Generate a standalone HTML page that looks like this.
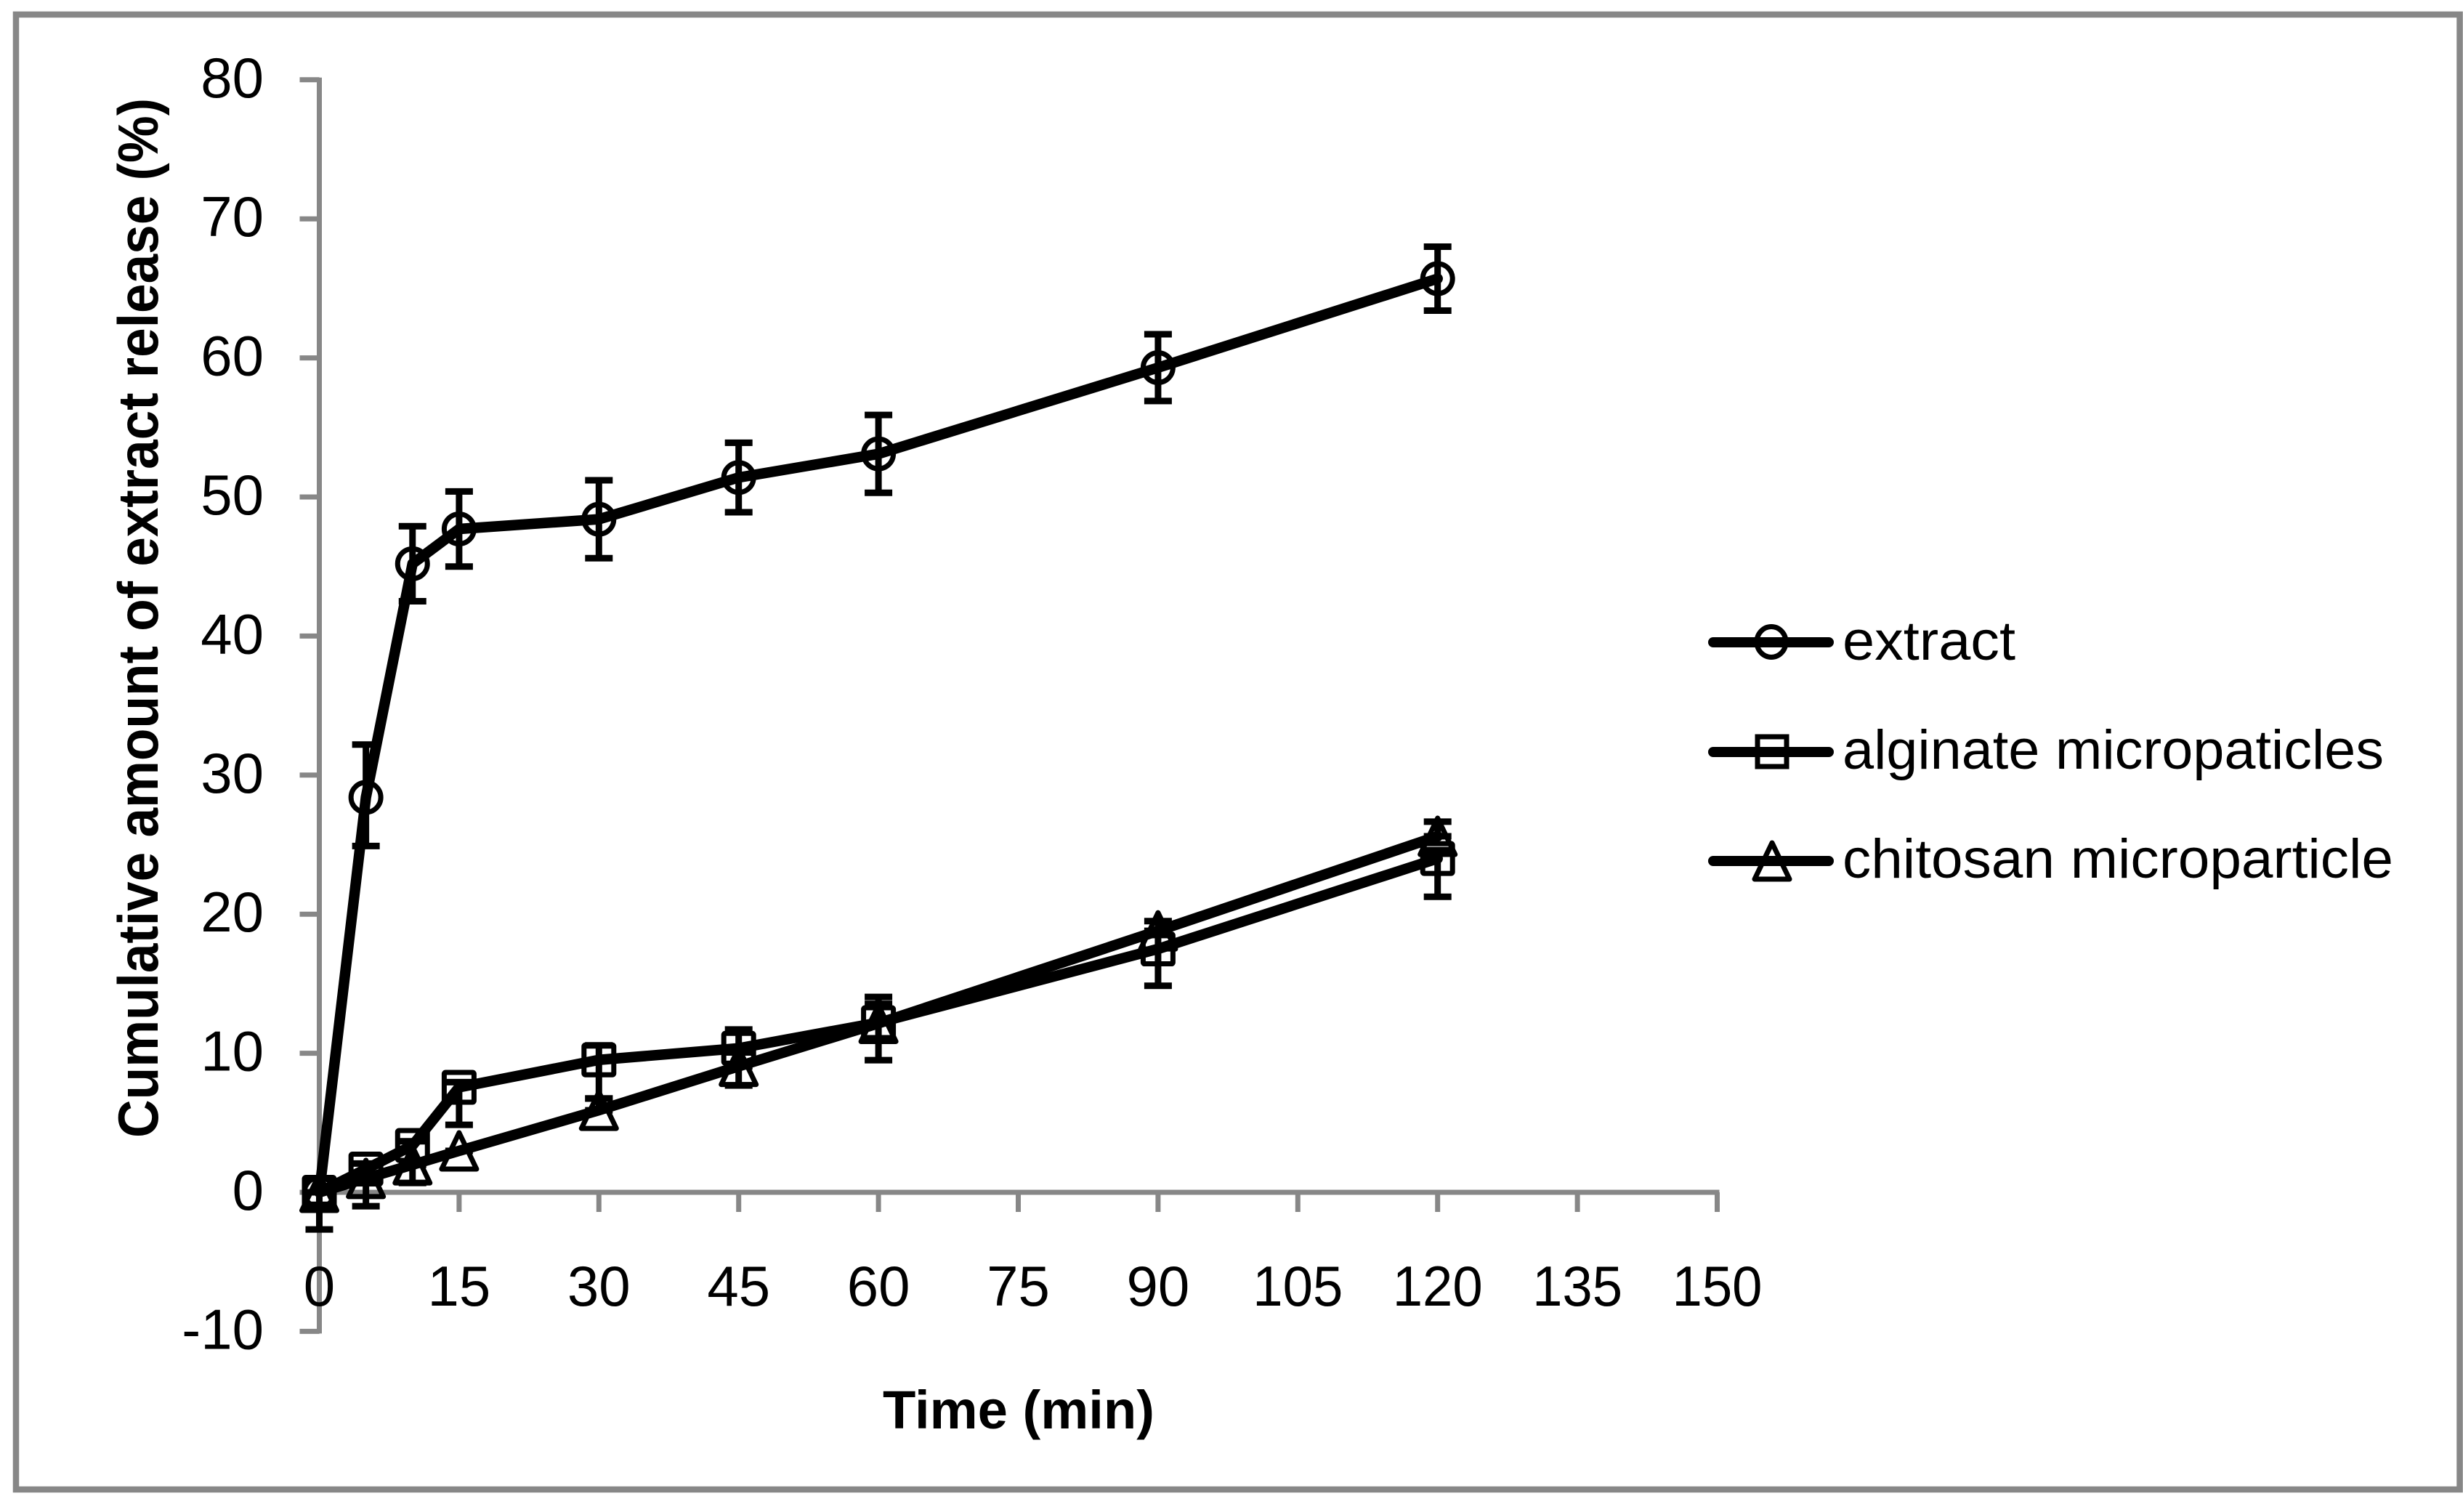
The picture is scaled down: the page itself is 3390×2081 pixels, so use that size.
<!DOCTYPE html>
<html>
<head>
<meta charset="utf-8">
<title>Cumulative extract release</title>
<style>
html,body{margin:0;padding:0;background:#fff;width:3390px;height:2081px;overflow:hidden}
svg{display:block}
text{font-family:"Liberation Sans",sans-serif;fill:#000}
</style>
</head>
<body>
<svg id="chart" xmlns="http://www.w3.org/2000/svg" width="3390" height="2081" viewBox="0 0 3390 2081">
  <rect x="22" y="20" width="3363.5" height="2030" fill="#fff" stroke="#878787" stroke-width="8.5"/>
  <g id="axes"></g>
  <g id="plot"></g>
  <text transform="translate(217,1566) rotate(-90)" font-size="78" font-weight="bold" textLength="1431" lengthAdjust="spacingAndGlyphs">Cumulative amount of extract release (%)</text>
  <text x="1215" y="1966" font-size="74" font-weight="bold" textLength="374" lengthAdjust="spacingAndGlyphs">Time (min)</text>
  <g>
    <g>
      <line x1="2358" y1="884" x2="2517" y2="884" stroke="#000" stroke-width="14" stroke-linecap="round"/>
      <ellipse cx="2438" cy="883.5" rx="20" ry="21" fill="none" stroke="#000" stroke-width="7"/>
      <text x="2536" y="908" font-size="76" textLength="238" lengthAdjust="spacingAndGlyphs">extract</text>
    </g>
    <g>
      <line x1="2358" y1="1035" x2="2517" y2="1035" stroke="#000" stroke-width="14" stroke-linecap="round"/>
      <rect x="2419" y="1014" width="40" height="41" fill="none" stroke="#000" stroke-width="7"/>
      <text x="2536" y="1058" font-size="76" textLength="745" lengthAdjust="spacingAndGlyphs">alginate micropaticles</text>
    </g>
    <g>
      <line x1="2358" y1="1185" x2="2517" y2="1185" stroke="#000" stroke-width="14" stroke-linecap="round"/>
      <polygon points="2439,1160 2415,1210 2463,1210" fill="none" stroke="#000" stroke-width="7" stroke-linejoin="round"/>
      <text x="2536" y="1208" font-size="76" textLength="758" lengthAdjust="spacingAndGlyphs">chitosan microparticle</text>
    </g>
  </g>
</svg>
<script>
const times = [0, 5, 10, 15, 30, 45, 60, 90, 120];
const extractValues = [0, 28.4, 45.2, 47.7, 48.4, 51.4, 53.1, 59.3, 65.7];
const extractUp = [0, 3.8, 2.7, 2.7, 2.8, 2.5, 2.8, 2.4, 2.3];
const extractDown = [0, 3.5, 2.7, 2.7, 2.8, 2.5, 2.8, 2.4, 2.3];
const alginateValues = [0, 1.67, 3.37, 7.55, 9.52, 10.36, 12.2, 17.5, 24.0];
const alginateUp = [0, 0.4, 0.3, 0.37, 1.05, 1.35, 1.85, 1.0, 0.6];
const alginateDown = [2.67, 2.67, 2.7, 2.7, 2.78, 2.68, 2.7, 2.65, 2.75];
const chitosanValues = [0, 1.0, 1.98, 2.98, 5.9, 9.06, 12.15, 18.8, 25.6];
const chitosanUp = [0, 0, 0, 0, 0.85, 1.0, 1.4, 0.7, 1.05];
const chitosanDown = [0.9, 0, 0, 0, 0, 0, 0, 0, 0];
const xTicks = [0, 15, 30, 45, 60, 75, 90, 105, 120, 135, 150];
const yTicks = [-10, 0, 10, 20, 30, 40, 50, 60, 70, 80];

const NS = 'http://www.w3.org/2000/svg';
const AXIS = '#878787';
function xScale(v) { return 439.5 + v * (1924 / 150); }
function yScale(v) { return 1641 - v * 19.14; }
function mk(tag, attrs, parent) {
  const el = document.createElementNS(NS, tag);
  for (const k in attrs) el.setAttribute(k, attrs[k]);
  parent.appendChild(el);
  return el;
}
const axes = document.getElementById('axes');
const plot = document.getElementById('plot');

const yLine = mk('line', {x1: xScale(0), x2: xScale(0), y1: yScale(80) - 3, y2: yScale(-10) + 3, stroke: AXIS, 'stroke-width': 7}, axes);


const xLine = mk('line', {x1: xScale(0), x2: xScale(150) + 3, y1: yScale(0), y2: yScale(0), stroke: AXIS, 'stroke-width': 7}, axes);



yTicks.forEach(function (t) {
  const tick = mk('line', {x1: xScale(0) - 27, x2: xScale(0), y1: yScale(t), y2: yScale(t), stroke: AXIS, 'stroke-width': 7}, axes);
  
  
  const label = mk('text', {x: 363, y: yScale(t) + 24, 'font-size': 78, 'text-anchor': 'end'}, axes);
  label.textContent = String(t);
  
  
});
xTicks.forEach(function (t) {
  const tick = mk('line', {x1: xScale(t), x2: xScale(t), y1: yScale(0), y2: yScale(0) + 27, stroke: AXIS, 'stroke-width': 7}, axes);
  
  
  const label = mk('text', {x: xScale(t), y: 1797, 'font-size': 78, 'text-anchor': 'middle'}, axes);
  label.textContent = String(t);
  if (String(t).length > 2) {
    label.setAttribute('textLength', '124');
    label.setAttribute('lengthAdjust', 'spacingAndGlyphs');
  }
  
  
});

function drawSeries(name, values, ups, downs, shape) {
  const g = mk('g', {}, plot);
  
  
  values.forEach(function (v, i) {
    const x = xScale(times[i]);
    const top = yScale(v + ups[i]);
    const bot = yScale(v - downs[i]);
    const bar = mk('path', {d: 'M' + (x - 19) + ' ' + top + 'H' + (x + 19) + 'M' + x + ' ' + top + 'V' + bot + 'M' + (x - 19) + ' ' + bot + 'H' + (x + 19), fill: 'none', stroke: '#000', 'stroke-width': 9}, g);
    
    
  });
  const pts = values.map(function (v, i) { return xScale(times[i]) + ',' + yScale(v); }).join(' ');
  const line = mk('polyline', {points: pts, fill: 'none', stroke: '#000', 'stroke-width': 14.5, 'stroke-linejoin': 'round', 'stroke-linecap': 'round'}, g);
  
  
  values.forEach(function (v, i) {
    const x = xScale(times[i]);
    const y = yScale(v);
    let m;
    if (shape === 'circle') {
      m = mk('circle', {cx: x, cy: y, r: 20.5, fill: 'none', stroke: '#000', 'stroke-width': 7}, g);
    } else if (shape === 'square') {
      m = mk('rect', {x: x - 20.5, y: y - 20.5, width: 41, height: 41, rx: 2, fill: 'none', stroke: '#000', 'stroke-width': 7}, g);
    } else {
      m = mk('polygon', {points: x + ',' + (y - 25) + ' ' + (x - 24) + ',' + (y + 25) + ' ' + (x + 24) + ',' + (y + 25), fill: 'none', stroke: '#000', 'stroke-width': 7, 'stroke-linejoin': 'round'}, g);
    }
    
    
  });
}
drawSeries('extract', extractValues, extractUp, extractDown, 'circle');
drawSeries('alginate', alginateValues, alginateUp, alginateDown, 'square');
drawSeries('chitosan', chitosanValues, chitosanUp, chitosanDown, 'triangle');
</script>
</body>
</html>
